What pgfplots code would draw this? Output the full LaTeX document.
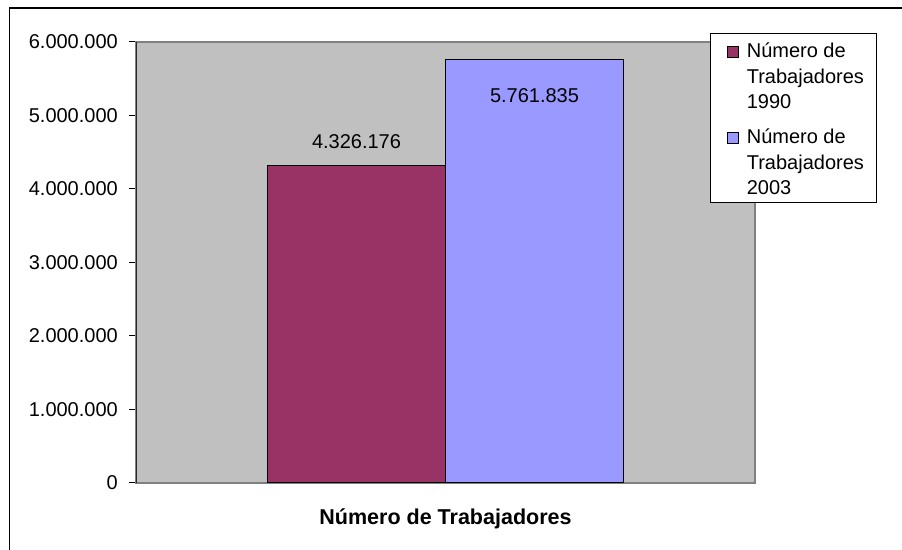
\documentclass[border=0pt]{standalone}
\usepackage{fontspec}
\setmainfont{Liberation Sans}
\usepackage{pgfplots}
\pgfplotsset{compat=1.18}
\definecolor{bar90}{HTML}{993366}
\definecolor{bar03}{HTML}{9999FF}
\definecolor{plotbg}{HTML}{C0C0C0}
\definecolor{edge}{HTML}{808080}
% legend entry: three lines, baseline on the last line; #1 = extra room above, #3 = extra room below
\newcommand{\entry}[3]{\begin{tabular}[b]{@{}l@{}}\rule{0pt}{#1}Número de\\Trabajadores\\#2\rule[-#3]{0pt}{0pt}\end{tabular}}
\begin{document}
\begin{tikzpicture}[x=1bp,y=1bp]
\useasboundingbox (0,0) rectangle (902,550);
\draw[line width=1.8bp] (9.5,-5) -- (9.5,542) -- (910,542);
\begin{axis}[
    at={(136bp,67bp)}, anchor=south west,
    width=619bp, height=441bp, scale only axis,
    font=\fontsize{20bp}{25.5bp}\selectfont,
    xmin=-1, xmax=1, ymin=0, ymax=6000000,
    ytick={0,1000000,2000000,3000000,4000000,5000000,6000000},
    yticklabels={0,1.000.000,2.000.000,3.000.000,4.000.000,5.000.000,6.000.000},
    xtick=\empty,
    scaled y ticks=false,
    yticklabel style={inner sep=0pt, xshift=-11bp},
    ybar=0pt, bar width=178bp,
    axis background/.style={fill=plotbg},
    axis line style={edge, line width=1.5bp},
    tick style={black, line width=1bp}, major tick length=7bp,
    tick align=outside, ytick pos=left,
    xlabel={\fontsize{21.5bp}{25bp}\selectfont\bfseries Número de Trabajadores},
    xlabel style={at={(axis description cs:0.5,0)}, anchor=north, inner sep=0pt, yshift=-26bp},
    legend style={at={(axis description cs:0.927,1.0204)}, anchor=north west,
        draw=black, line width=1bp, fill=white,
        inner xsep=13bp, inner ysep=6.5bp, column sep=8bp,
        nodes={inner sep=0pt},
        cells={anchor=base west}},
    legend image code/.code={\path (0bp,0bp); \draw[#1, draw=black, line width=1bp] (3.5bp,51bp) rectangle (14.5bp,62bp);},
]
\addplot[fill=bar90, draw=black, line width=1bp,
    point meta=explicit symbolic, nodes near coords,
    nodes near coords style={anchor=south, inner sep=0pt, yshift=16bp, black}]
    coordinates {(0,4326176) [4.326.176]};
\addplot[fill=bar03, draw=black, line width=1bp,
    point meta=explicit symbolic, nodes near coords,
    nodes near coords style={anchor=north, inner sep=0pt, yshift=-29bp, black}]
    coordinates {(0,5761835) [5.761.835]};
\draw[black!85, line width=1.5bp] (rel axis cs:0,0) -- (rel axis cs:0,1);
\legend{\entry{0bp}{1990}{0bp}, \entry{33.35bp}{2003}{4bp}}
\end{axis}
\end{tikzpicture}
\end{document}
